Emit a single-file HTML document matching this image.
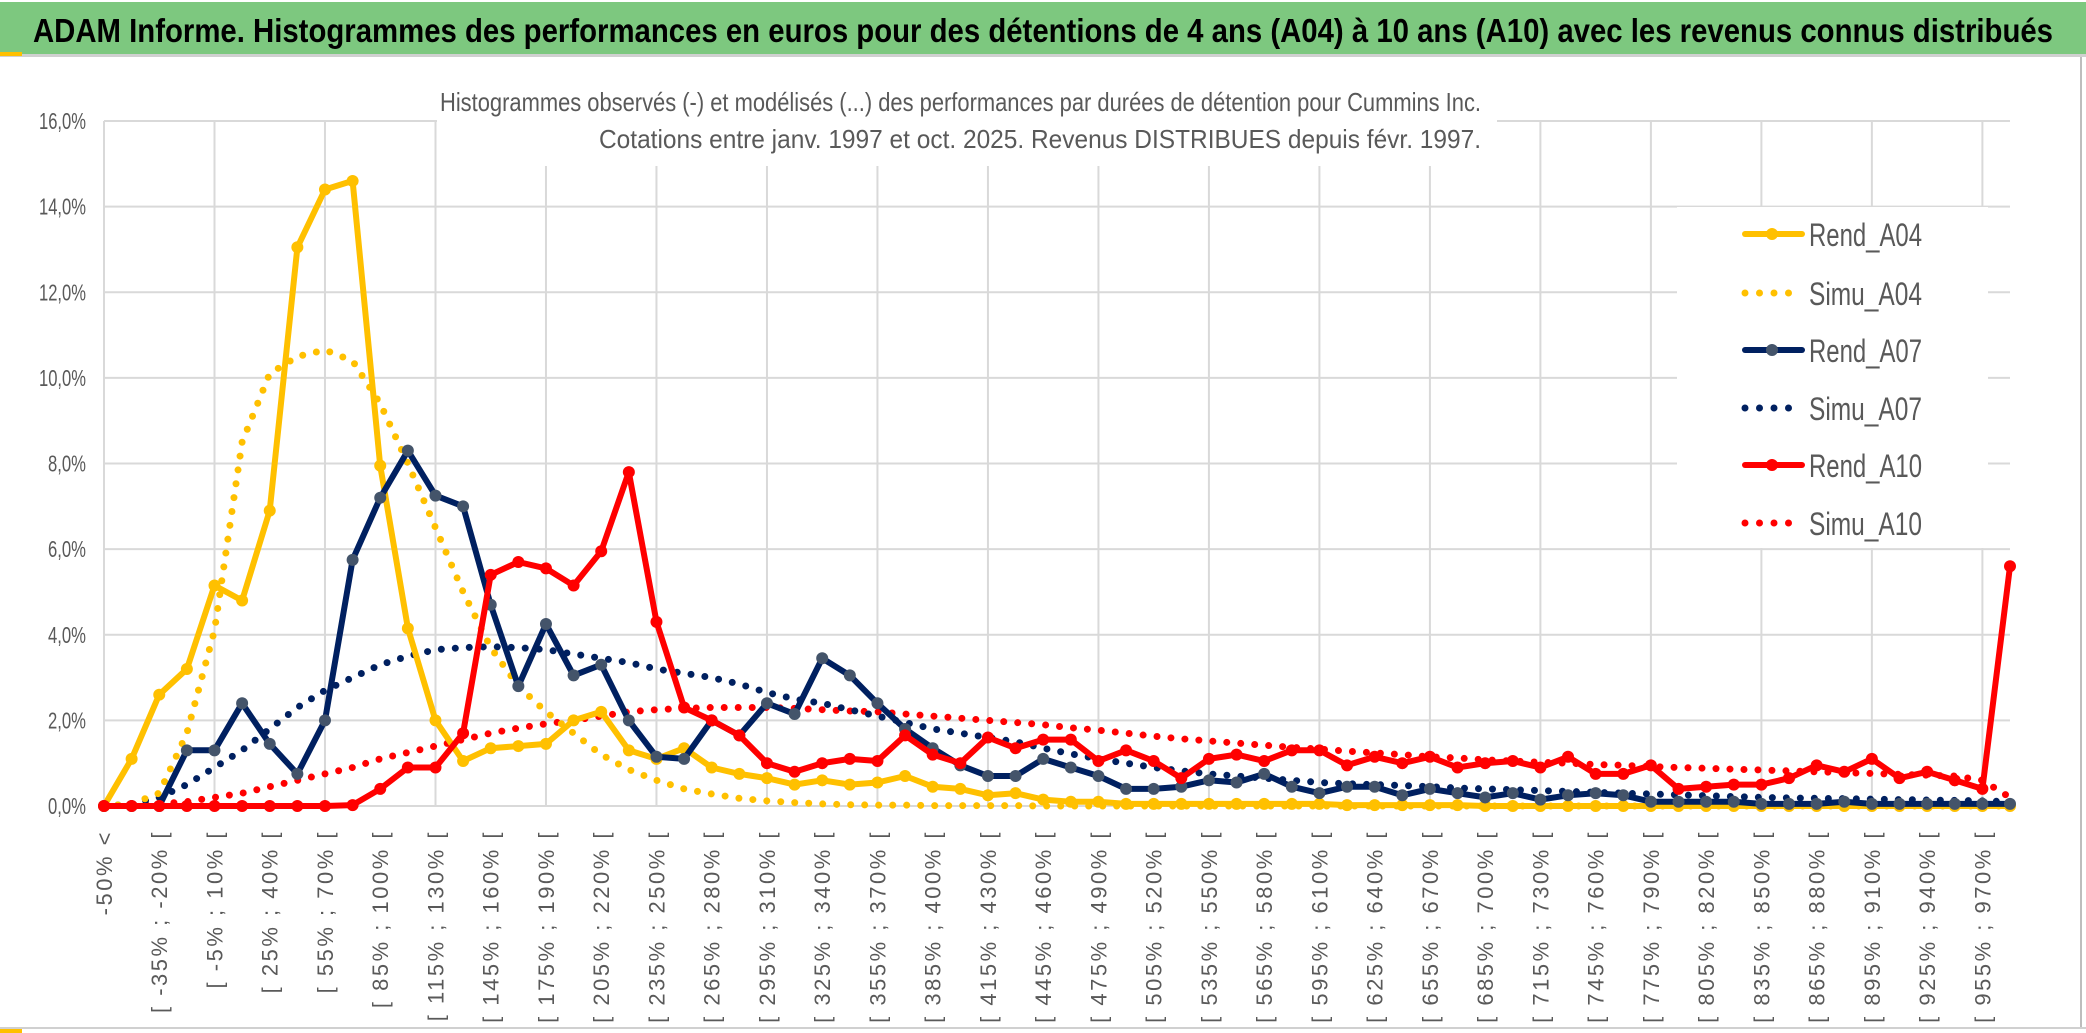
<!DOCTYPE html>
<html><head><meta charset="utf-8"><style>
body{margin:0;background:#fff;}
svg{display:block;font-family:"Liberation Sans Narrow","Liberation Sans",sans-serif;}
</style></head><body>
<svg id="chart" width="2086" height="1033" viewBox="0 0 2086 1033" xmlns="http://www.w3.org/2000/svg">
<rect x="0" y="0" width="2086" height="1033" fill="#fff"/>
<rect x="0" y="2" width="2086" height="52" fill="#7DC87F"/>
<rect x="0" y="54" width="2086" height="3" fill="#d0d0d0"/>
<rect x="0" y="52" width="22" height="4" fill="#FFC000"/>
<text x="33" y="42" font-size="33" font-weight="bold" fill="#000" textLength="2020" lengthAdjust="spacingAndGlyphs">ADAM Informe. Histogrammes des performances en euros pour des détentions de 4 ans (A04) à 10 ans (A10) avec les revenus connus distribués</text>
<rect x="2080" y="57" width="2" height="970" fill="#bdbdbd"/>
<rect x="0" y="1027" width="2086" height="2" fill="#d0d0d0"/>
<rect x="0" y="1029" width="22" height="4" fill="#FFC000"/>
<g id="grid"></g>
<rect x="437" y="78" width="1060" height="88" fill="#fff"/>
<text x="440" y="111" font-size="26" fill="#595959" textLength="1041" lengthAdjust="spacingAndGlyphs">Histogrammes observés (-) et modélisés (...) des performances par durées de détention pour Cummins Inc.</text>
<text x="599" y="148" font-size="26" fill="#595959" textLength="882" lengthAdjust="spacingAndGlyphs">Cotations entre janv. 1997 et oct. 2025. Revenus DISTRIBUES depuis févr. 1997.</text>
<rect x="1677" y="207" width="311" height="341" fill="#fff"/>
<g id="yaxis"></g>
<g id="xaxis"></g>
<g id="series"></g>
<g id="legend"></g>
</svg>
<script>
const yTicks=["0,0%","2,0%","4,0%","6,0%","8,0%","10,0%","12,0%","14,0%","16,0%"];
const yTickValues=[0,2,4,6,8,10,12,14,16];
const rendA04=[0,1.1,2.6,3.2,5.15,4.8,6.9,13.05,14.4,14.6,7.95,4.15,2.0,1.05,1.35,1.4,1.45,2.0,2.2,1.3,1.1,1.35,0.9,0.75,0.65,0.5,0.6,0.5,0.55,0.7,0.45,0.4,0.25,0.3,0.15,0.1,0.1,0.05,0.05,0.05,0.05,0.05,0.05,0.05,0.05,0.02,0.02,0.02,0.02,0.02,0,0,0,0,0,0,0,0,0,0,0,0,0,0,0,0,0,0,0,0];
const simuA04=[0,0.05,0.3,1.7,4.1,8.5,10.1,10.5,10.65,10.4,9.4,8.0,6.5,5.0,3.7,2.8,2.2,1.7,1.2,0.85,0.6,0.4,0.28,0.18,0.12,0.08,0.05,0.03,0.02,0.02,0.01,0.01,0.01,0.01,0,0,0,0,0,0,0,0,0,0,0,0,0,0,0,0,0,0,0,0,0,0,0,0,0,0,0,0,0,0,0,0,0,0,0,0];
const rendA07=[0,0,0,1.3,1.3,2.4,1.45,0.75,2.0,5.75,7.2,8.3,7.25,7.0,4.7,2.8,4.25,3.05,3.3,2.0,1.15,1.1,2.0,1.65,2.4,2.15,3.45,3.05,2.4,1.8,1.35,0.95,0.7,0.7,1.1,0.9,0.7,0.4,0.4,0.45,0.6,0.55,0.75,0.45,0.3,0.45,0.45,0.25,0.4,0.3,0.2,0.3,0.15,0.25,0.3,0.25,0.1,0.1,0.1,0.1,0.05,0.05,0.05,0.1,0.05,0.05,0.05,0.05,0.05,0.05];
const simuA07=[0,0.05,0.2,0.5,0.9,1.3,1.8,2.3,2.7,3.0,3.3,3.5,3.65,3.7,3.72,3.7,3.65,3.55,3.45,3.35,3.2,3.1,3.0,2.85,2.65,2.5,2.4,2.25,2.1,1.95,1.8,1.7,1.6,1.5,1.35,1.22,1.1,1.0,0.9,0.82,0.75,0.7,0.65,0.6,0.55,0.52,0.5,0.48,0.45,0.42,0.4,0.38,0.36,0.34,0.32,0.3,0.28,0.26,0.24,0.22,0.2,0.19,0.18,0.17,0.16,0.15,0.14,0.13,0.12,0.1];
const rendA10=[0,0,0,0,0,0,0,0,0,0.02,0.4,0.9,0.9,1.7,5.4,5.7,5.55,5.15,5.95,7.8,4.3,2.3,2.0,1.65,1.0,0.8,1.0,1.1,1.05,1.65,1.2,1.0,1.6,1.35,1.55,1.55,1.05,1.3,1.05,0.65,1.1,1.2,1.05,1.3,1.3,0.95,1.15,1.0,1.15,0.9,1.0,1.05,0.9,1.15,0.75,0.75,0.95,0.4,0.45,0.5,0.5,0.65,0.95,0.8,1.1,0.65,0.8,0.6,0.4,5.6];
const simuA10=[0,0.02,0.05,0.1,0.2,0.3,0.45,0.6,0.75,0.9,1.1,1.25,1.4,1.55,1.7,1.82,1.92,2.0,2.1,2.2,2.25,2.28,2.3,2.3,2.3,2.28,2.25,2.22,2.2,2.15,2.1,2.05,2.0,1.95,1.9,1.83,1.77,1.7,1.63,1.57,1.52,1.47,1.42,1.37,1.33,1.28,1.24,1.2,1.15,1.12,1.08,1.05,1.02,1.0,0.97,0.95,0.92,0.9,0.88,0.86,0.84,0.82,0.8,0.78,0.76,0.74,0.72,0.7,0.6,0.2];
const categories=["-50% <"];
for(let k=1;k<=68;k++){const lo=-50+15*(k-1);categories.push("[ "+lo+"% ; "+(lo+15)+"% [");}
categories.push("> 970%");

const NS="http://www.w3.org/2000/svg";
const X0=104,X1=2010,Y0=806,Y16=121;
function xs(i){return X0+(X1-X0)*i/(categories.length-1);}
function ys(v){return Y0-(Y0-Y16)*v/16;}
function mk(tag,attrs,parent){const e=document.createElementNS(NS,tag);for(const k in attrs)e.setAttribute(k,attrs[k]);parent.appendChild(e);return e;}

const grid=document.getElementById('grid');
yTickValues.forEach(v=>{
  const l=mk('line',{x1:X0,x2:X1,y1:ys(v),y2:ys(v),stroke:'#D9D9D9','stroke-width':2},grid);
  
  
});
for(let i=0;i<categories.length;i+=4){
  const l=mk('line',{x1:xs(i),x2:xs(i),y1:Y16,y2:Y0,stroke:'#D9D9D9','stroke-width':2},grid);
  
  
}
const yax=document.getElementById('yaxis');
yTicks.forEach((t,i)=>{
  const e=mk('text',{x:86,y:ys(yTickValues[i])+8,'font-size':23,fill:'#595959','text-anchor':'end',textLength:(t.length>4?47:38),lengthAdjust:'spacingAndGlyphs'},yax);
  e.textContent=t;
  
  
});
const xax=document.getElementById('xaxis');
for(let i=0;i<categories.length-1;i+=2){
  const x=xs(i)+8,y=830;
  const e=mk('text',{x:x,y:y,'font-size':22,'letter-spacing':2.5,fill:'#595959','text-anchor':'end','font-family':'"Liberation Sans",sans-serif',transform:'rotate(-90 '+x+' '+y+')'},xax);
  e.textContent=categories[i];
  
  
}
const ser=document.getElementById('series');
function pts(arr){return arr.map((v,i)=>xs(i).toFixed(1)+','+ys(v).toFixed(1)).join(' ');}
function dotted(arr,color,name){
  const p=mk('polyline',{points:pts(arr),fill:'none',stroke:color,'stroke-width':7,'stroke-linecap':'round','stroke-dasharray':'0 14'},ser);
  
  
}
function solid(arr,color,marker,name){
  const p=mk('polyline',{points:pts(arr),fill:'none',stroke:color,'stroke-width':6,'stroke-linejoin':'round'},ser);
  
  
  arr.forEach((v,i)=>{
    const c=mk('circle',{cx:xs(i),cy:ys(v),r:6,fill:marker},ser);
    
    
  });
}
dotted(simuA10,'#FF0000','simu-a10-line');
dotted(simuA07,'#002060','simu-a07-line');
dotted(simuA04,'#FFC000','simu-a04-line');
solid(rendA04,'#FFC000','#FFC000','rend-a04-line');
solid(rendA07,'#002060','#44546A','rend-a07-line');
solid(rendA10,'#FF0000','#FF0000','rend-a10-line');

const leg=document.getElementById('legend');
const entries=[["Rend_A04","#FFC000","solid","#FFC000"],["Simu_A04","#FFC000","dot"],["Rend_A07","#002060","solid","#44546A"],["Simu_A07","#002060","dot"],["Rend_A10","#FF0000","solid","#FF0000"],["Simu_A10","#FF0000","dot"]];
const legY=[234,293,350,408,465,523];
entries.forEach((en,i)=>{
  const y=legY[i];
  const g=mk('g',{},leg);
  
  
  if(en[2]==='solid'){
    mk('line',{x1:1745,x2:1802,y1:y,y2:y,stroke:en[1],'stroke-width':6,'stroke-linecap':'round'},g);
    mk('circle',{cx:1772,cy:y,r:6,fill:en[3]},g);
  } else {
    mk('line',{x1:1745,x2:1795,y1:y,y2:y,stroke:en[1],'stroke-width':7,'stroke-linecap':'round','stroke-dasharray':'0 14.5'},g);
  }
  const t=mk('text',{x:1809,y:y+12,'font-size':32,fill:'#595959',textLength:113,lengthAdjust:'spacingAndGlyphs'},g);
  t.textContent=en[0];
});
</script>
</body></html>
